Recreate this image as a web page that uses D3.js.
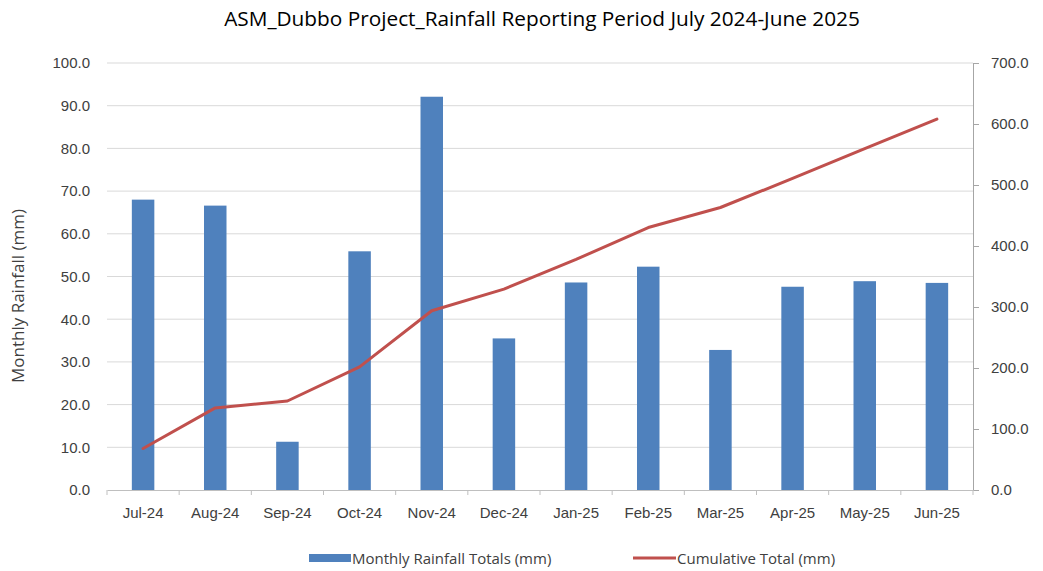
<!DOCTYPE html>
<meta charset="utf-8">
<style>
body { margin: 0; background: #fff; }
svg { display: block; font-family: "Open Sans", sans-serif; }
.tick text { fill: #404040; font-size: 15px; }
</style>
<svg id="chart" width="1043" height="571"></svg>
<script src="https://cdn.jsdelivr.net/npm/d3@7"></script>
<script>
// values
var months = ["Jul-24", "Aug-24", "Sep-24", "Oct-24", "Nov-24", "Dec-24",
              "Jan-25", "Feb-25", "Mar-25", "Apr-25", "May-25", "Jun-25"];
var monthlyRain = [68.0, 66.6, 11.3, 55.9, 92.1, 35.5, 48.6, 52.3, 32.8, 47.6, 48.9, 48.5];
var cumulative = [68.0, 134.6, 145.9, 201.8, 293.9, 329.4, 378.0, 430.3, 463.1, 510.7, 559.6, 608.1];
var leftTicks = [0, 10, 20, 30, 40, 50, 60, 70, 80, 90, 100];
var rightTicks = [0, 100, 200, 300, 400, 500, 600, 700];

var margin = {top: 63, right: 70, bottom: 81, left: 107},
    width = 1043 - margin.left - margin.right,
    height = 571 - margin.top - margin.bottom;

var svg = d3.select("#chart");
var g = svg.append("g").attr("transform", "translate(" + margin.left + "," + margin.top + ")");

var x = d3.scaleBand().domain(months).range([0, width]);
var yL = d3.scaleLinear().domain([0, 100]).range([height, 0]);
var yR = d3.scaleLinear().domain([0, 700]).range([height, 0]);

// gridlines
g.append("g").selectAll("line")
  .data(leftTicks.slice(1))
  .enter().append("line")
    .attr("x1", 0).attr("x2", width)
    .attr("y1", function(d) { return yL(d); })
    .attr("y2", function(d) { return yL(d); })
    .attr("stroke", "#d9d9d9").attr("stroke-width", 1);

// left axis, no line
var left = g.append("g")
  .call(d3.axisLeft(yL).tickValues(leftTicks).tickFormat(d3.format(".1f")).tickSize(0).tickPadding(17));
left.select(".domain").remove();

// right axis
var right = g.append("g")
  .attr("transform", "translate(" + width + ",0)")
  .call(d3.axisRight(yR).tickValues(rightTicks).tickFormat(d3.format(".1f")).tickSize(6).tickSizeOuter(0).tickPadding(12));
right.select(".domain").attr("stroke", "#a6a6a6");
right.selectAll(".tick line").attr("stroke", "#a6a6a6");

// bars
var barW = 22.5;
g.append("g").selectAll("rect")
  .data(monthlyRain)
  .enter().append("rect")
    .attr("x", function(d, i) { return x(months[i]) + x.bandwidth() / 2 - barW / 2; })
    .attr("y", function(d) { return yL(d); })
    .attr("width", barW)
    .attr("height", function(d) { return height - yL(d); })
    .attr("fill", "#4f81bd");

// x axis
var bottom = g.append("g")
  .attr("transform", "translate(0," + height + ")")
  .call(d3.axisBottom(x).tickSize(0).tickPadding(17));
bottom.select(".domain").attr("stroke", "#bfbfbf");
// tick marks at category boundaries
bottom.selectAll(".sep")
  .data(d3.range(months.length + 1))
  .enter().append("line")
    .attr("class", "sep")
    .attr("x1", function(i) { return i * x.step(); })
    .attr("x2", function(i) { return i * x.step(); })
    .attr("y1", 0).attr("y2", 5)
    .attr("stroke", "#bfbfbf");

// cumulative line
var line = d3.line()
  .x(function(d, i) { return x(months[i]) + x.bandwidth() / 2; })
  .y(function(d) { return yR(d); });
g.append("path")
  .datum(cumulative)
  .attr("d", line)
  .attr("fill", "none")
  .attr("stroke", "#c0504d")
  .attr("stroke-width", 3)
  .attr("stroke-linejoin", "round")
  .attr("stroke-linecap", "round");

// title
svg.append("text")
  .attr("x", 542).attr("y", 26)
  .attr("text-anchor", "middle")
  .style("font-size", "20.8px")
  .style("fill", "#000")
  .text("ASM_Dubbo Project_Rainfall Reporting Period July 2024-June 2025");

// y title
svg.append("text")
  .attr("transform", "translate(24,296) rotate(-90)")
  .attr("text-anchor", "middle")
  .style("font-size", "17px")
  .style("fill", "#404040")
  .text("Monthly Rainfall (mm)");

// legend
var legend = svg.append("g").style("font-size", "15px").style("fill", "#404040");
legend.append("rect")
  .attr("x", 309).attr("y", 554).attr("width", 42).attr("height", 8)
  .attr("fill", "#4f81bd");
legend.append("text")
  .attr("x", 352).attr("y", 564)
  .text("Monthly Rainfall Totals (mm)");
legend.append("line")
  .attr("x1", 633).attr("x2", 676).attr("y1", 558).attr("y2", 558)
  .attr("stroke", "#c0504d").attr("stroke-width", 3);
legend.append("text")
  .attr("x", 677).attr("y", 564)
  .text("Cumulative Total (mm)");
</script>
